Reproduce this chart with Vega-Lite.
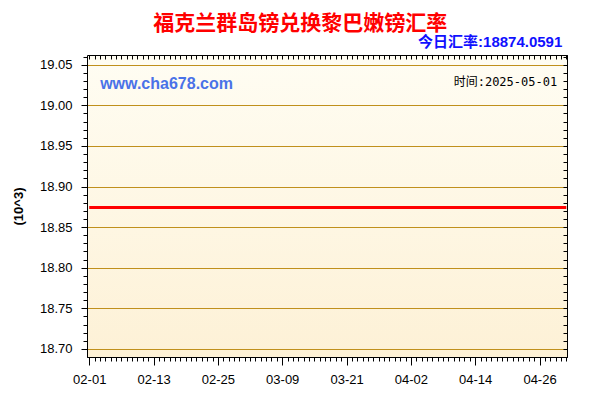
{
  "$schema": "https://vega.github.io/schema/vega-lite/v6.json",
  "description": "福克兰群岛镑兑换黎巴嫩镑汇率, 2025-02-01 to 2025-05-01",
  "width": 480,
  "height": 302,
  "autosize": {"type": "none"},
  "padding": {"left": 87, "top": 55, "right": 33, "bottom": 43},
  "background": "white",
  "data": {
    "values": [
      {"date": "2025-02-01", "rate": 18.874},
      {"date": "2025-02-08", "rate": 18.874},
      {"date": "2025-02-15", "rate": 18.874},
      {"date": "2025-02-22", "rate": 18.874},
      {"date": "2025-03-01", "rate": 18.874},
      {"date": "2025-03-08", "rate": 18.874},
      {"date": "2025-03-15", "rate": 18.874},
      {"date": "2025-03-22", "rate": 18.874},
      {"date": "2025-03-29", "rate": 18.874},
      {"date": "2025-04-05", "rate": 18.874},
      {"date": "2025-04-12", "rate": 18.874},
      {"date": "2025-04-19", "rate": 18.874},
      {"date": "2025-04-26", "rate": 18.874},
      {"date": "2025-05-01", "rate": 18.874}
    ]
  },
  "layer": [
    {
      "data": {"values": [{}]},
      "mark": {
        "type": "rect",
        "color": {
          "gradient": "linear",
          "x1": 0, "y1": 0, "x2": 0, "y2": 1,
          "stops": [
            {"offset": 0, "color": "#fffdf3"},
            {"offset": 1, "color": "#fdf1d6"}
          ]
        }
      },
      "encoding": {
        "x": {"datum": 1738332000000, "type": "temporal", "axis": null},
        "x2": {"datum": 1746068400000},
        "y": {"datum": 18.69, "type": "quantitative", "axis": null},
        "y2": {"datum": 19.062}
      }
    },
    {
      "mark": {"type": "line", "color": "#ff0000", "strokeWidth": 3},
      "encoding": {
        "x": {
          "field": "date",
          "type": "temporal",
          "scale": {"type": "utc", "domain": [1738332000000, 1746068400000], "nice": false},
          "axis": {
            "title": null,
            "values": [1738368000000, 1739404800000, 1740441600000, 1741478400000, 1742515200000, 1743552000000, 1744588800000, 1745625600000],
            "format": "%m-%d",
            "tickSize": 8,
            "labelPadding": 8,
            "grid": false,
            "zindex": 1
          }
        },
        "y": {
          "field": "rate",
          "type": "quantitative",
          "scale": {"domain": [18.69, 19.062], "zero": false, "nice": false},
          "axis": {
            "title": "(10^3)",
            "titleFont": "Liberation Sans",
            "titleFontSize": 13,
            "titleFontWeight": "bold",
            "titleColor": "#000000",
            "titleAngle": -90,
            "titleX": -69,
            "titleY": 151,
            "titleAlign": "center",
            "titleBaseline": "middle",
            "values": [18.7, 18.75, 18.8, 18.85, 18.9, 18.95, 19.0, 19.05],
            "format": ".2f",
            "tickSize": 6,
            "labelPadding": 9,
            "grid": true,
            "gridColor": "#c0901c",
            "gridOpacity": 1,
            "gridWidth": 1,
            "zindex": 1
          }
        }
      }
    },
    {
      "mark": {"type": "line", "strokeOpacity": 0},
      "encoding": {
        "x": {
          "field": "date",
          "type": "temporal",
          "axis": {
            "orient": "bottom",
            "labels": false,
            "domain": false,
            "grid": false,
            "title": null,
            "tickSize": 4,
            "tickCount": {"interval": "day", "step": 1},
            "zindex": 1
          }
        },
        "y": {
          "field": "rate",
          "type": "quantitative",
          "axis": {
            "orient": "left",
            "labels": false,
            "domain": false,
            "grid": false,
            "title": null,
            "tickSize": 4,
            "zindex": 1,
            "values": [18.7, 18.71, 18.72, 18.73, 18.74, 18.75, 18.76, 18.77, 18.78, 18.79, 18.8, 18.81, 18.82, 18.83, 18.84, 18.85, 18.86, 18.87, 18.88, 18.89, 18.9, 18.91, 18.92, 18.93, 18.94, 18.95, 18.96, 18.97, 18.98, 18.99, 19.0, 19.01, 19.02, 19.03, 19.04, 19.05, 19.06]
          }
        }
      }
    },
    {
      "mark": {"type": "line", "strokeOpacity": 0},
      "encoding": {
        "x": {
          "field": "date",
          "type": "temporal",
          "axis": {
            "orient": "top",
            "labels": false,
            "grid": false,
            "title": null,
            "tickSize": -4,
            "zindex": 1,
            "tickCount": {"interval": "day", "step": 1}
          }
        },
        "y": {
          "field": "rate",
          "type": "quantitative",
          "axis": {
            "orient": "right",
            "labels": false,
            "grid": false,
            "title": null,
            "tickSize": -4,
            "zindex": 1,
            "values": [18.7, 18.71, 18.72, 18.73, 18.74, 18.75, 18.76, 18.77, 18.78, 18.79, 18.8, 18.81, 18.82, 18.83, 18.84, 18.85, 18.86, 18.87, 18.88, 18.89, 18.9, 18.91, 18.92, 18.93, 18.94, 18.95, 18.96, 18.97, 18.98, 18.99, 19.0, 19.01, 19.02, 19.03, 19.04, 19.05, 19.06]
          }
        }
      }
    },
    {
      "data": {"values": [{"label": "福克兰群岛镑兑换黎巴嫩镑汇率"}]},
      "mark": {
        "type": "text",
        "align": "center",
        "baseline": "middle",
        "color": "#ff0000",
        "font": "Noto Sans CJK SC",
        "fontSize": 21,
        "fontWeight": "bold"
      },
      "encoding": {
        "x": {"datum": 1741770000000, "type": "temporal", "axis": null},
        "y": {"datum": 19.1002, "type": "quantitative", "axis": null},
        "text": {"field": "label"}
      }
    },
    {
      "data": {"values": [{"label": "今日汇率:18874.0591"}]},
      "mark": {
        "type": "text",
        "align": "right",
        "baseline": "middle",
        "color": "#1010ff",
        "font": "Liberation Sans, Noto Sans CJK SC",
        "fontSize": 15,
        "fontWeight": "bold"
      },
      "encoding": {
        "x": {"datum": 1745992800000, "type": "temporal", "axis": null},
        "y": {"datum": 19.078, "type": "quantitative", "axis": null},
        "text": {"field": "label"}
      }
    },
    {
      "data": {"values": [{"label": "www.cha678.com"}]},
      "mark": {
        "type": "text",
        "align": "left",
        "baseline": "middle",
        "color": "#4a72e8",
        "font": "Liberation Sans",
        "fontSize": 16,
        "fontWeight": "bold"
      },
      "encoding": {
        "x": {"datum": 1738544400000, "type": "temporal", "axis": null},
        "y": {"datum": 19.026, "type": "quantitative", "axis": null},
        "text": {"field": "label"}
      }
    },
    {
      "data": {"values": [{"label": "时间:2025-05-01"}]},
      "mark": {
        "type": "text",
        "align": "right",
        "baseline": "middle",
        "color": "#000000",
        "font": "DejaVu Sans Mono, Noto Sans CJK SC",
        "fontSize": 12
      },
      "encoding": {
        "x": {"datum": 1745910000000, "type": "temporal", "axis": null},
        "y": {"datum": 19.0287, "type": "quantitative", "axis": null},
        "text": {"field": "label"}
      }
    }
  ],
  "resolve": {"axis": {"x": "independent", "y": "independent"}},
  "config": {
    "view": {"stroke": "#000000", "strokeWidth": 1},
    "axis": {
      "labelFont": "Liberation Sans",
      "labelFontSize": 13,
      "labelColor": "#000000",
      "domainColor": "#000000",
      "tickColor": "#000000",
      "labelFlush": false,
      "labelOverlap": false
    }
  }
}
